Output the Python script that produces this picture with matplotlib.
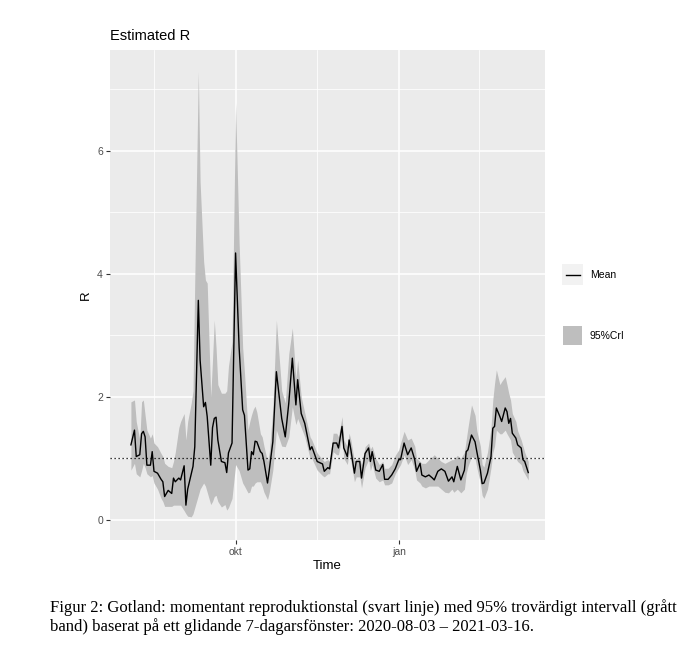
import numpy as np
import pandas as pd
import matplotlib
matplotlib.use("Agg")
import matplotlib.pyplot as plt
from matplotlib.patches import Rectangle
from matplotlib.lines import Line2D

plt.rcParams['font.family'] = ['Liberation Sans', 'DejaVu Sans']

# days after 2020-08-03
days = [0, 2, 3, 5, 6, 7, 8, 9, 11, 12, 13, 15, 17, 18, 19, 21, 23, 24, 25, 27,
        28, 30, 31, 32, 34, 35, 36, 38, 39, 41, 42, 43, 45, 46, 47, 48, 49, 51, 53, 54,
        55, 57, 59, 61, 63, 64, 66, 67, 68, 69, 70, 71, 73, 74, 75, 77, 78, 80, 82, 85,
        87, 89, 91, 93, 94, 96, 98, 101, 102, 105, 108, 109, 111, 112, 114, 116, 117, 119, 120, 122,
        123, 124, 126, 127, 129, 130, 132, 134, 135, 136, 138, 140, 142, 143, 145, 147, 149, 151, 152, 154,
        156, 158, 160, 161, 163, 164, 166, 168, 170, 171, 173, 175, 177, 179, 181, 182, 184, 186, 188, 189,
        190, 192, 194, 195, 197, 198, 199, 201, 203, 204, 205, 206, 208, 209, 211, 212, 213, 214, 215, 217,
        218, 220, 221, 222, 224]

r_mean = [1.22, 1.46, 1.03, 1.06, 1.40, 1.44, 1.35, 0.89, 0.89, 1.11, 0.79, 0.76, 0.66, 0.62, 0.38, 0.48, 0.43, 0.68, 0.62, 0.68,
          0.65, 0.88, 0.24, 0.50, 0.75, 0.87, 1.19, 3.57, 2.60, 1.84, 1.91, 1.68, 0.89, 1.50, 1.65, 1.67, 1.30, 0.95, 0.93, 0.77,
          1.09, 1.25, 4.34, 2.80, 1.79, 1.70, 0.81, 0.83, 1.11, 1.06, 1.28, 1.27, 1.11, 1.08, 0.95, 0.60, 0.81, 1.27, 2.41, 1.65,
          1.35, 1.90, 2.63, 1.87, 2.28, 1.73, 1.57, 1.14, 1.19, 0.95, 0.91, 0.79, 0.85, 0.83, 1.25, 1.25, 1.17, 1.52, 1.17, 1.03,
          1.30, 1.14, 0.76, 0.95, 0.95, 0.68, 1.08, 1.17, 0.95, 1.11, 0.81, 0.79, 0.90, 0.66, 0.66, 0.73, 0.83, 0.98, 0.98, 1.25,
          1.06, 1.17, 0.98, 0.79, 0.92, 0.73, 0.70, 0.73, 0.68, 0.65, 0.79, 0.83, 0.79, 0.63, 0.70, 0.62, 0.87, 0.65, 0.81, 1.11,
          1.14, 1.38, 1.27, 1.11, 0.81, 0.59, 0.60, 0.76, 1.03, 1.49, 1.52, 1.82, 1.68, 1.60, 1.82, 1.76, 1.57, 1.65, 1.41, 1.33,
          1.22, 1.17, 0.98, 0.95, 0.77]

r_lower = [0.81, 0.92, 0.75, 0.70, 0.80, 0.92, 0.85, 0.75, 0.70, 0.72, 0.60, 0.50, 0.35, 0.30, 0.22, 0.22, 0.22, 0.24, 0.24, 0.24,
           0.24, 0.15, 0.10, 0.06, 0.05, 0.10, 0.20, 0.40, 0.50, 0.60, 0.55, 0.45, 0.25, 0.30, 0.38, 0.40, 0.30, 0.21, 0.25, 0.16,
           0.20, 0.35, 0.90, 0.80, 0.60, 0.55, 0.44, 0.45, 0.55, 0.55, 0.60, 0.62, 0.62, 0.55, 0.45, 0.33, 0.45, 0.81, 1.46, 1.20,
           1.19, 1.35, 1.84, 1.55, 1.65, 1.50, 1.35, 1.00, 1.00, 0.81, 0.72, 0.70, 0.75, 0.75, 1.11, 1.06, 1.06, 1.36, 1.00, 0.90,
           1.10, 0.95, 0.62, 0.70, 0.70, 0.52, 0.85, 0.98, 0.80, 0.90, 0.68, 0.62, 0.65, 0.57, 0.57, 0.60, 0.75, 0.85, 0.90, 1.06,
           0.90, 0.98, 0.81, 0.65, 0.60, 0.55, 0.52, 0.55, 0.55, 0.55, 0.55, 0.50, 0.45, 0.44, 0.50, 0.45, 0.50, 0.44, 0.50, 0.75,
           0.87, 1.03, 1.00, 0.85, 0.60, 0.40, 0.35, 0.50, 0.85, 1.09, 1.20, 1.46, 1.40, 1.40, 1.46, 1.40, 1.35, 1.30, 1.10, 1.00,
           0.95, 0.90, 0.80, 0.75, 0.65]

r_upper = [1.92, 1.95, 1.60, 1.30, 1.92, 1.95, 1.70, 1.46, 1.33, 1.40, 1.25, 1.19, 1.08, 1.03, 0.92, 0.87, 0.85, 0.95, 1.10, 1.50,
           1.60, 1.73, 1.30, 1.60, 1.90, 2.10, 3.90, 7.29, 5.50, 4.20, 3.90, 3.85, 2.00, 2.60, 3.25, 2.80, 2.20, 2.06, 2.06, 2.10,
           2.50, 2.90, 6.78, 4.50, 2.80, 2.40, 1.46, 1.60, 1.71, 1.80, 1.85, 1.75, 1.40, 1.35, 1.20, 0.95, 1.10, 1.80, 3.25, 2.10,
           1.90, 2.70, 3.12, 2.30, 2.60, 2.00, 1.74, 1.35, 1.30, 1.09, 0.98, 0.95, 0.98, 0.95, 1.41, 1.41, 1.35, 1.68, 1.30, 1.19,
           1.41, 1.30, 0.95, 1.00, 1.00, 0.90, 1.19, 1.25, 1.15, 1.20, 1.00, 0.90, 0.95, 0.84, 0.84, 0.90, 1.05, 1.14, 1.25, 1.44,
           1.30, 1.33, 1.20, 1.00, 0.95, 0.92, 0.92, 0.98, 1.03, 1.06, 1.00, 0.95, 0.92, 0.95, 0.98, 0.98, 1.05, 1.00, 1.10, 1.30,
           1.50, 1.87, 1.70, 1.45, 1.20, 0.90, 0.86, 1.10, 1.50, 1.95, 2.22, 2.44, 2.20, 2.25, 2.33, 2.20, 2.06, 1.95, 1.73, 1.60,
           1.45, 1.30, 1.20, 1.10, 0.95]

start = pd.Timestamp("2020-08-03")
dates = start + pd.to_timedelta(days, unit="D")

fig = plt.figure(figsize=(7.0, 6.54), dpi=100)
ax = fig.add_axes([0.157, 0.174, 0.622, 0.7495])
ax.set_facecolor("#EBEBEB")

ax.fill_between(dates, r_lower, r_upper, color="#BEBEBE", linewidth=0, zorder=2)
ax.plot(dates, r_mean, color="black", linewidth=1.0, zorder=3)
ax.axhline(1, color="black", linestyle=(0, (1, 2.2)), linewidth=0.9, zorder=4)

ax.set_xlim(start - pd.Timedelta(days=11.85), start + pd.Timedelta(days=233.6))
ax.set_ylim(-0.33, 7.64)

ax.set_yticks([0, 2, 4, 6])
ax.set_yticks([1, 3, 5, 7], minor=True)
ax.set_xticks([pd.Timestamp("2020-10-01"), pd.Timestamp("2021-01-01")])
ax.set_xticks([pd.Timestamp("2020-08-16"), pd.Timestamp("2020-11-16"),
               pd.Timestamp("2021-02-15")], minor=True)
ax.set_xticklabels(["okt", "jan"])

ax.grid(which="major", color="white", linewidth=1.1, zorder=0)
ax.grid(which="minor", color="white", linewidth=0.55, zorder=0)
ax.set_axisbelow(True)
for s in ax.spines.values():
    s.set_visible(False)
ax.tick_params(which="major", length=3, width=0.8, color="#333333",
               labelsize=7.5, labelcolor="#4D4D4D", pad=2)
ax.tick_params(which="minor", length=0)

ax.set_xlabel("Time", fontsize=9.5, labelpad=2)
ax.set_ylabel("R", fontsize=9.5, labelpad=4)
ax.set_title("Estimated R", loc="left", fontsize=10.5, pad=7)

# legend keys (ggplot style, two separate guides)
W, H = 700, 654
def px(x, y):
    return x / W, 1 - y / H

x0, y0 = px(562, 285)
fig.patches.append(Rectangle((x0, y0), 21 / W, 21 / H, transform=fig.transFigure,
                             facecolor="#F2F2F2", edgecolor="none"))
lx0, ly = px(566, 274.5)
lx1, _ = px(580, 274.5)
fig.lines.append(Line2D([lx0, lx1], [ly, ly], transform=fig.transFigure,
                        color="black", linewidth=1.0))
tx, ty = px(590, 274.5)
fig.text(tx, ty, "Mean", fontsize=7.5, va="center", ha="left")

x0, y0 = px(563, 345)
fig.patches.append(Rectangle((x0, y0), 19 / W, 19 / H, transform=fig.transFigure,
                             facecolor="#BEBEBE", edgecolor="none"))
tx, ty = px(590, 335.5)
fig.text(tx, ty, "95%CrI", fontsize=7.5, va="center", ha="left")

cap = ("Figur 2: Gotland: momentant reproduktionstal (svart linje) med 95% trovärdigt intervall (grått\n"
       "band) baserat på ett glidande 7-dagarsfönster: 2020-08-03 – 2021-03-16.")
cx, cy = px(50, 599)
fig.text(cx, cy, cap, fontsize=12.0, family=["Liberation Serif", "DejaVu Serif"],
         va="top", ha="left", linespacing=1.15)

fig.savefig("out.png", dpi=100)
